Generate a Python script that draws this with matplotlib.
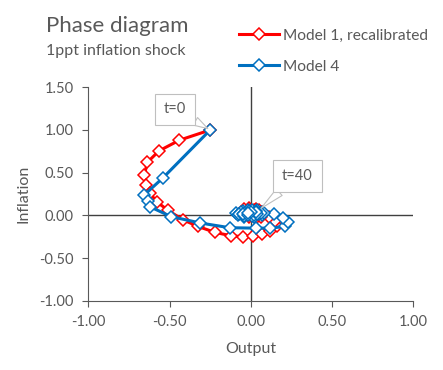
import matplotlib
matplotlib.use("Agg")
import matplotlib.pyplot as plt

plt.rcParams['font.family'] = ['Lato', 'DejaVu Sans']

# phase path, t = 0..40 (output, inflation)
model1_output = [-0.25, -0.44, -0.565, -0.637, -0.655, -0.645, -0.62, -0.58, -0.51, -0.42,
                 -0.325, -0.22, -0.12, -0.045, 0.015, 0.07, 0.12, 0.16, 0.15, 0.11,
                 0.07, 0.03, -0.01, -0.04, -0.05, -0.04, -0.01, 0.03, 0.06, 0.07,
                 0.05, 0.02, -0.01, -0.03, -0.03, -0.01, 0.02, 0.04, 0.05, 0.05, 0.05]
model1_inflation = [1.00, 0.88, 0.755, 0.62, 0.47, 0.36, 0.26, 0.16, 0.06, -0.05,
                    -0.13, -0.20, -0.24, -0.25, -0.24, -0.22, -0.18, -0.13, -0.07, -0.02,
                    0.04, 0.08, 0.09, 0.07, 0.04, 0.01, -0.02, -0.03, -0.02, 0.01,
                    0.04, 0.06, 0.06, 0.04, 0.02, 0.00, -0.01, 0.00, 0.02, 0.04, 0.06]

model4_output = [-0.25, -0.54, -0.655, -0.635, -0.62, -0.49, -0.31, -0.13, 0.03, 0.12,
                 0.21, 0.23, 0.20, 0.14, 0.07, 0.01, -0.05, -0.09, -0.08, -0.04,
                 0.02, 0.07, 0.08, 0.04, -0.02, -0.06, -0.07, -0.04, 0.01, 0.05,
                 0.06, 0.03, -0.01, -0.04, -0.05, -0.02, 0.02, 0.04, 0.03, 0.00, -0.02]
model4_inflation = [1.00, 0.44, 0.24, 0.17, 0.10, -0.015, -0.09, -0.145, -0.15, -0.15,
                    -0.13, -0.08, -0.03, 0.01, 0.04, 0.06, 0.05, 0.03, 0.00, -0.02,
                    -0.02, 0.00, 0.03, 0.06, 0.06, 0.04, 0.01, -0.01, -0.01, 0.01,
                    0.03, 0.05, 0.05, 0.03, 0.01, 0.00, 0.00, 0.02, 0.035, 0.04, 0.03]

ticks = [-1.0, -0.5, 0.0, 0.5, 1.0, 1.5]
grey = '#595959'

fig = plt.figure(figsize=(4.43, 3.70), dpi=100)
ax = fig.add_axes([88.3 / 443, 1 - 300.7 / 370, 325 / 443, 213.4 / 370])

ax.axhline(0, color='#404040', lw=1.0, zorder=1)
ax.axvline(0, color='#404040', lw=1.0, zorder=1)

mk = dict(marker='D', markersize=6.2, markerfacecolor='white', markeredgewidth=1.1, lw=2.2)
ax.plot(model1_output, model1_inflation, color='#FF0000', label='Model 1, recalibrated', zorder=3, **mk)
ax.plot(model4_output, model4_inflation, color='#0070C0', label='Model 4', zorder=4, **mk)

ax.set_xlim(-1, 1)
ax.set_ylim(-1, 1.5)
ax.set_xticks(ticks[:5])
ax.set_yticks(ticks)
ax.xaxis.set_major_formatter(lambda v, p: f'{v:.2f}')
ax.yaxis.set_major_formatter(lambda v, p: f'{v:.2f}')
for s in ['top', 'right']:
    ax.spines[s].set_visible(False)
for s in ['left', 'bottom']:
    ax.spines[s].set_color(grey)
    ax.spines[s].set_linewidth(0.8)
ax.tick_params(colors=grey, labelsize=10.5, length=4, width=0.8, pad=6.5)
ax.set_xlabel('Output', color=grey, fontsize=11.5, labelpad=9)
ax.set_ylabel('Inflation', color=grey, fontsize=11.5, labelpad=6)

box = dict(boxstyle='square,pad=0.6', fc='white', ec='#BFBFBF', lw=0.8)
arrow = dict(arrowstyle='wedge,tail_width=0.6', fc='white', ec='#BFBFBF', lw=0.8, shrinkA=0, shrinkB=2)
ax.annotate('t=0', xy=(model4_output[0], model4_inflation[0]), xytext=(-0.466, 1.24),
            ha='center', va='center', fontsize=10.5, color=grey, bbox=box, arrowprops=arrow, zorder=5)
ax.annotate('t=40', xy=(model1_output[-1], model1_inflation[-1]), xytext=(0.287, 0.46),
            ha='center', va='center', fontsize=10.5, color=grey, bbox=box, arrowprops=arrow, zorder=5)

fig.text(46 / 443, 1 - 32 / 370, 'Phase diagram', fontsize=16, color=grey, ha='left', va='baseline')
fig.text(46 / 443, 1 - 55 / 370, '1ppt inflation shock', fontsize=11.5, color=grey, ha='left', va='baseline')

fig.legend(loc='upper left', bbox_to_anchor=(239 / 443, 1 - 28.5 / 370), frameon=False,
           fontsize=11.2, handlelength=2.6, handletextpad=0.2, labelspacing=1.1,
           borderpad=0, borderaxespad=0, labelcolor=grey)

fig.savefig('out.png', dpi=100)
